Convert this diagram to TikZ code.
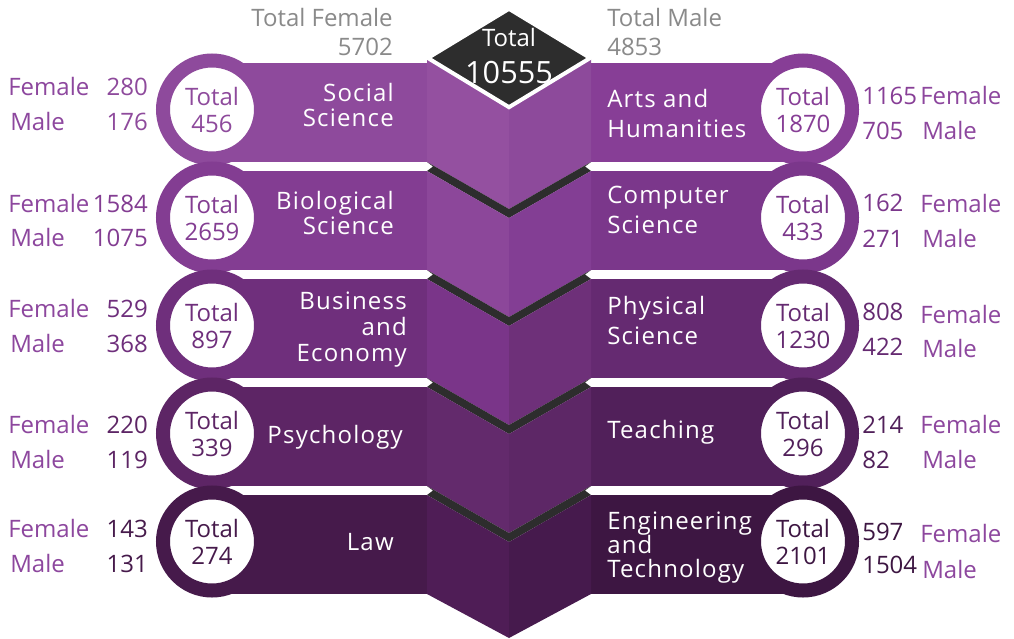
\documentclass[tikz,border=0pt]{standalone}
\usepackage{fontspec}
\setmainfont{Open Sans}
\newfontfamily\bandfont[LetterSpace=5]{Open Sans}
\usetikzlibrary{shapes.geometric}

% left bands
\definecolor{socsci}{HTML}{8E4A9C}
\definecolor{biosci}{HTML}{833D92}
\definecolor{busecon}{HTML}{6F2F7C}
\definecolor{psych}{HTML}{5D2565}
\definecolor{law}{HTML}{461A4B}
% right bands
\definecolor{arts}{HTML}{873E96}
\definecolor{compsci}{HTML}{7B378B}
\definecolor{physsci}{HTML}{652A71}
\definecolor{teach}{HTML}{51205A}
\definecolor{engtech}{HTML}{3D1642}
% cube faces
\definecolor{cubeoneL}{HTML}{9450A0}
\definecolor{cubeoneR}{HTML}{8D4A9B}
\definecolor{cubetwoL}{HTML}{8C479A}
\definecolor{cubetwoR}{HTML}{833E94}
\definecolor{cubethreeL}{HTML}{7A3589}
\definecolor{cubethreeR}{HTML}{6E3079}
\definecolor{cubefourL}{HTML}{632A6C}
\definecolor{cubefourR}{HTML}{5D2766}
\definecolor{cubefiveL}{HTML}{4F1D56}
\definecolor{cubefiveR}{HTML}{461A4D}
\definecolor{gemdark}{HTML}{2D2D2D}
\definecolor{sumgrey}{HTML}{8A8A8A}
\definecolor{sexpurple}{HTML}{8D479E}

\begin{document}
\begin{tikzpicture}[
  x=0.75pt,
  y=-0.75pt,
  ring/.style={
    circle,
    fill=white,
    line width=10.5pt,
    minimum size=73.5pt,
    inner sep=0pt,
    align=center,
    font=\fontsize{18}{20.25}\selectfont
  },
  gem/.style={
    diamond,
    fill=gemdark,
    draw=white,
    line width=3pt,
    minimum width=123pt,
    minimum height=75pt,
    inner sep=0pt
  },
  gemtext/.style={
    anchor=base,
    text=white,
    inner sep=0pt
  },
  sumtext/.style={
    text=sumgrey,
    inner sep=0pt,
    font=\fontsize{18}{21.75}\selectfont
  },
  sexlabel/.style={
    anchor=base west,
    text=sexpurple,
    inner sep=0pt,
    font=\fontsize{18}{20}\selectfont
  },
  count/.style={
    inner sep=0pt,
    font=\fontsize{18}{20}\selectfont
  },
  fieldL/.style={
    text=white,
    align=right,
    anchor=north east,
    inner sep=0pt
  },
  fieldR/.style={
    text=white,
    align=left,
    anchor=north west,
    inner sep=0pt
  }
]

% canvas
\useasboundingbox[fill=white] (0,0) rectangle (1014,639);

% Bands
\fill[socsci] (212,63) rectangle (427,162);
\fill[arts] (591,63) rectangle (803,162);
\fill[biosci] (212,171) rectangle (427,270);
\fill[compsci] (591,171) rectangle (803,270);
\fill[busecon] (212,279) rectangle (427,378);
\fill[physsci] (591,279) rectangle (803,378);
\fill[psych] (212,387) rectangle (427,486);
\fill[teach] (591,387) rectangle (803,486);
\fill[law] (212,495) rectangle (427,594);
\fill[engtech] (591,495) rectangle (803,594);

% Cube column
\fill[cubeoneL] (427,58) -- (509,108) -- (509,209) -- (427,162) -- cycle;
\fill[cubeoneR] (509,108) -- (591,58) -- (591,162) -- (509,209) -- cycle;
\fill[gemdark] (427,162) -- (509,209) -- (591,162) -- (585,166.5) -- (591,171) -- (509,218) -- (427,171) -- (433,166.5) -- cycle;
\fill[cubetwoL] (427,171) -- (509,218) -- (509,317) -- (427,270) -- cycle;
\fill[cubetwoR] (509,218) -- (591,171) -- (591,270) -- (509,317) -- cycle;
\fill[gemdark] (427,270) -- (509,317) -- (591,270) -- (585,274.5) -- (591,279) -- (509,326) -- (427,279) -- (433,274.5) -- cycle;
\fill[cubethreeL] (427,279) -- (509,326) -- (509,425) -- (427,378) -- cycle;
\fill[cubethreeR] (509,326) -- (591,279) -- (591,378) -- (509,425) -- cycle;
\fill[gemdark] (427,378) -- (509,425) -- (591,378) -- (585,382.5) -- (591,387) -- (509,434) -- (427,387) -- (433,382.5) -- cycle;
\fill[cubefourL] (427,387) -- (509,434) -- (509,533) -- (427,486) -- cycle;
\fill[cubefourR] (509,434) -- (591,387) -- (591,486) -- (509,533) -- cycle;
\fill[gemdark] (427,486) -- (509,533) -- (591,486) -- (585,490.5) -- (591,495) -- (509,542) -- (427,495) -- (433,490.5) -- cycle;
\fill[cubefiveL] (427,495) -- (509,542) -- (509,638) -- (427,594) -- cycle;
\fill[cubefiveR] (509,542) -- (591,495) -- (591,594) -- (509,638) -- cycle;

% Grand total
\node[gem] (total) at (509,58) {};
\node[gemtext, font=\fontsize{18}{20}\selectfont] (totword) at (509,46) {Total};
\node[gemtext, font=\fontsize{23}{26}\selectfont] (totnum) at (509,83) {10555};
\node[sumtext, align=right, anchor=north east] (femsum) at (393,8) {Total Female\\5702};
\node[sumtext, align=left, anchor=north west] (malesum) at (607,8) {Total Male\\4853};

% Rings
\node[ring, draw=socsci, text=socsci] (socring) at (212,109.5) {Total\\456};
\node[ring, draw=arts, text=arts] (artsring) at (803,109.5) {Total\\1870};
\node[ring, draw=biosci, text=biosci] (bioring) at (212,217.5) {Total\\2659};
\node[ring, draw=compsci, text=compsci] (compring) at (803,217.5) {Total\\433};
\node[ring, draw=busecon, text=busecon] (busring) at (212,325.5) {Total\\897};
\node[ring, draw=physsci, text=physsci] (physring) at (803,325.5) {Total\\1230};
\node[ring, draw=psych, text=psych] (psyring) at (212,433.5) {Total\\339};
\node[ring, draw=teach, text=teach] (teachring) at (803,433.5) {Total\\296};
\node[ring, draw=law, text=law] (lawring) at (212,541.5) {Total\\274};
\node[ring, draw=engtech, text=engtech] (engring) at (803,541.5) {Total\\2101};

% Field names
\node[fieldL, font=\bandfont\fontsize{18}{18.75}\selectfont] (socname) at (394,83) {Social\\Science};
\node[fieldR, font=\bandfont\fontsize{18}{22.5}\selectfont] (artsname) at (607,89) {Arts and\\Humanities};
\node[fieldL, font=\bandfont\fontsize{18}{18.75}\selectfont] (bioname) at (394,191) {Biological\\Science};
\node[fieldR, font=\bandfont\fontsize{18}{22.5}\selectfont] (compname) at (607,186) {Computer\\Science};
\node[fieldL, font=\bandfont\fontsize{18}{19.5}\selectfont] (busname) at (407,292) {Business\\and\\Economy};
\node[fieldR, font=\bandfont\fontsize{18}{22.5}\selectfont] (physname) at (607,296) {Physical\\Science};
\node[fieldL, anchor=base east, font=\bandfont\fontsize{18}{20}\selectfont] (psyname) at (403,443) {Psychology};
\node[fieldR, anchor=base west, font=\bandfont\fontsize{18}{20}\selectfont] (teachname) at (607,438) {Teaching};
\node[fieldL, anchor=base east, font=\bandfont\fontsize{18}{20}\selectfont] (lawname) at (394,550) {Law};
\node[fieldR, font=\bandfont\fontsize{18}{18}\selectfont] (engname) at (607,512) {Engineering\\and\\Technology};

% Left counts
\node[sexlabel] (socfemlbl) at (8,95) {Female};
\node[sexlabel] (socmalelbl) at (10,130) {Male};
\node[count, anchor=base east, text=socsci] (socfem) at (148,95) {280};
\node[count, anchor=base east, text=socsci] (socmale) at (148,130) {176};
\node[sexlabel] (biofemlbl) at (8,212) {Female};
\node[sexlabel] (biomalelbl) at (10,246) {Male};
\node[count, anchor=base east, text=biosci] (biofem) at (148,212) {1584};
\node[count, anchor=base east, text=biosci] (biomale) at (148,246) {1075};
\node[sexlabel] (busfemlbl) at (8,317) {Female};
\node[sexlabel] (busmalelbl) at (10,352) {Male};
\node[count, anchor=base east, text=busecon] (busfem) at (148,317) {529};
\node[count, anchor=base east, text=busecon] (busmale) at (148,352) {368};
\node[sexlabel] (psyfemlbl) at (8,433) {Female};
\node[sexlabel] (psymalelbl) at (10,468) {Male};
\node[count, anchor=base east, text=psych] (psyfem) at (148,433) {220};
\node[count, anchor=base east, text=psych] (psymale) at (148,468) {119};
\node[sexlabel] (lawfemlbl) at (8,537) {Female};
\node[sexlabel] (lawmalelbl) at (10,572) {Male};
\node[count, anchor=base east, text=law] (lawfem) at (148,537) {143};
\node[count, anchor=base east, text=law] (lawmale) at (148,572) {131};

% Right counts
\node[count, anchor=base west, text=arts] (artsfem) at (862,104) {1165};
\node[count, anchor=base west, text=arts] (artsmale) at (862,139) {705};
\node[sexlabel] (artsfemlbl) at (920,104) {Female};
\node[sexlabel] (artsmalelbl) at (922,139) {Male};
\node[count, anchor=base west, text=compsci] (compfem) at (862,211) {162};
\node[count, anchor=base west, text=compsci] (compmale) at (862,247) {271};
\node[sexlabel] (compfemlbl) at (920,212) {Female};
\node[sexlabel] (compmalelbl) at (922,247) {Male};
\node[count, anchor=base west, text=physsci] (physfem) at (862,320) {808};
\node[count, anchor=base west, text=physsci] (physmale) at (862,355) {422};
\node[sexlabel] (physfemlbl) at (920,323) {Female};
\node[sexlabel] (physmalelbl) at (922,357) {Male};
\node[count, anchor=base west, text=teach] (teachfem) at (862,433) {214};
\node[count, anchor=base west, text=teach] (teachmale) at (862,468) {82};
\node[sexlabel] (teachfemlbl) at (920,433) {Female};
\node[sexlabel] (teachmalelbl) at (922,468) {Male};
\node[count, anchor=base west, text=engtech] (engfem) at (862,540) {597};
\node[count, anchor=base west, text=engtech] (engmale) at (862,573) {1504};
\node[sexlabel] (engfemlbl) at (920,542) {Female};
\node[sexlabel] (engmalelbl) at (922,578) {Male};

\end{tikzpicture}
\end{document}
